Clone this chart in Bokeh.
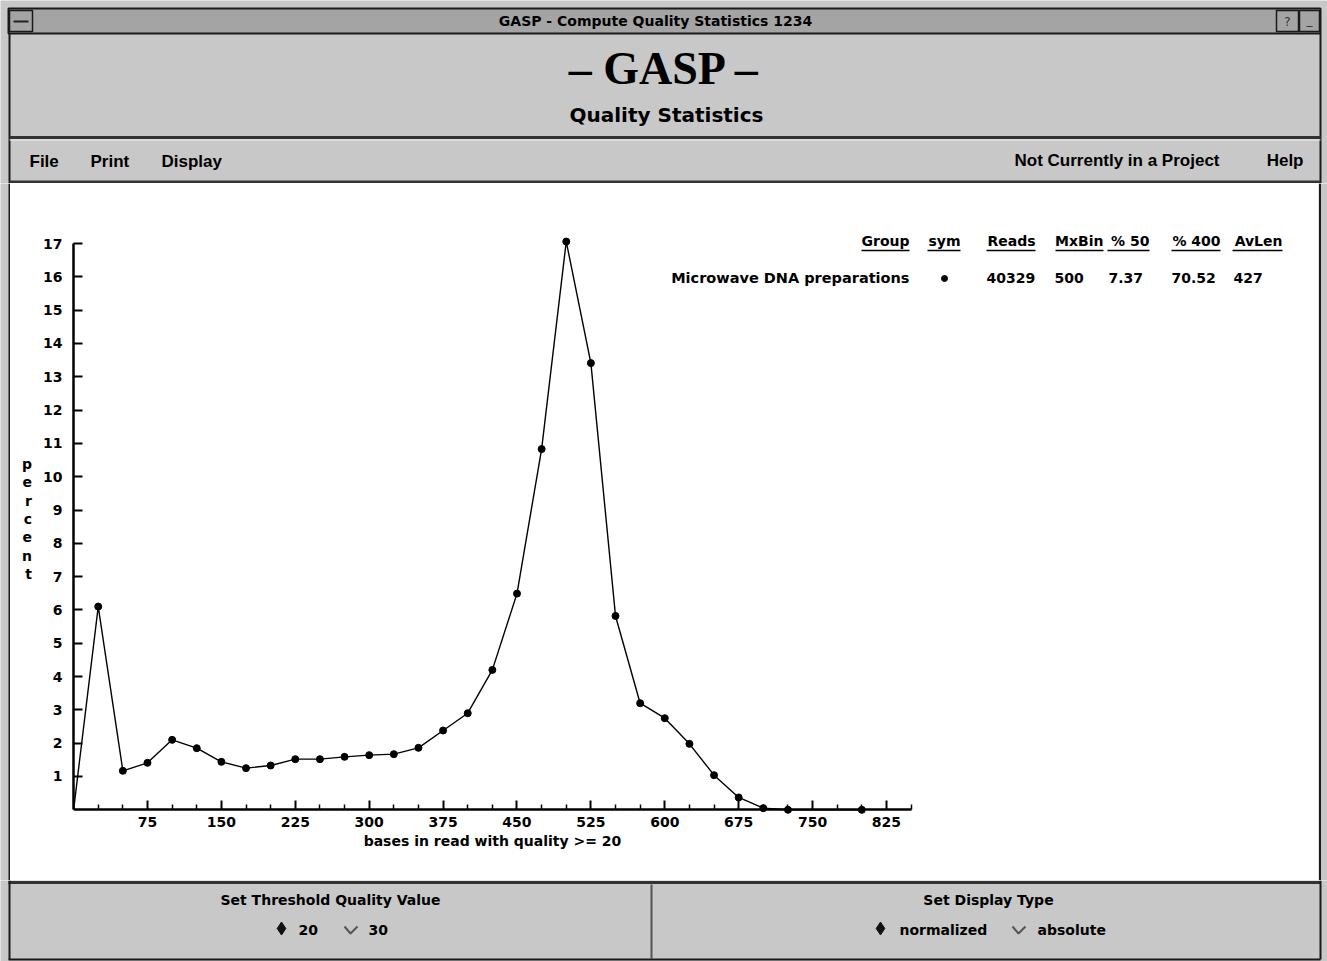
from bokeh.plotting import figure
from bokeh.models import Range1d, FixedTicker
from bokeh.layouts import column, row
from bokeh.embed import file_html
from bokeh.resources import INLINE
from bokeh.core.properties import value

# ---------------- data ----------------
bins = [0, 25, 50, 75, 100, 125, 150, 175, 200, 225, 250, 275, 300, 325, 350,
        375, 400, 425, 450, 475, 500, 525, 550, 575, 600, 625, 650, 675, 700, 725, 800]
percent = [0.0, 6.10, 1.17, 1.41, 2.10, 1.85, 1.44, 1.25, 1.33, 1.52, 1.52, 1.59, 1.64, 1.67, 1.86,
           2.38, 2.90, 4.20, 6.49, 10.83, 17.06, 13.41, 5.82, 3.20, 2.75, 1.98, 1.04, 0.37, 0.05, 0.0, 0.0]
x_major_ticks = [75, 150, 225, 300, 375, 450, 525, 600, 675, 750, 825]
x_minor_ticks = [25, 50, 100, 125, 175, 200, 250, 275, 325, 350, 400, 425, 475, 500, 550,
                 575, 625, 650, 700, 725, 775, 800, 850]
y_major_ticks = [1, 2, 3, 4, 5, 6, 7, 8, 9, 10, 11, 12, 13, 14, 15, 16, 17]
table_headers = ["Group", "sym", "Reads", "MxBin", "% 50", "% 400", "AvLen"]
table_row = ["Microwave DNA preparations", "\u2022", "40329", "500", "7.37", "70.52", "427"]

window_title = "GASP - Compute Quality Statistics 1234"
app_title = "\u2013 GASP \u2013"
app_subtitle = "Quality Statistics"
menu_left = ["File", "Print", "Display"]
menu_right = ["Not Currently in a Project", "Help"]
x_label = "bases in read with quality >= 20"
y_label = "percent"
threshold_title = "Set Threshold Quality Value"
display_title = "Set Display Type"
radio_labels = ["20", "30", "normalized", "absolute"]

# ---------------- layout helpers (page pixel -> data) ----------------
X0_PX, X_SCALE = 73.1, 0.9853
Y0_PX, Y_SCALE = 809.3, 33.31


def dx(px):
    return (px - X0_PX) / X_SCALE


def dy(py):
    return (Y0_PX - py) / Y_SCALE


PAGE_W = 1327
GRAY = "#c8c8c8"
DARK_GRAY = "#a4a4a4"
EDGE = "#1a1a1a"
SANS = value("DejaVu Sans")
UI = value("Liberation Sans")


def deco_fig(x0, x1, y0, y1):
    f = figure(width=x1 - x0, height=y1 - y0, x_range=Range1d(x0, x1),
               y_range=Range1d(y1, y0), output_backend="svg", toolbar_location=None,
               x_axis_location=None, y_axis_location=None, min_border=0, frame_align=False)
    f.grid.visible = False
    f.outline_line_color = None
    f.background_fill_color = GRAY
    f.border_fill_color = GRAY
    return f


# ---------------- header ----------------
h = deco_fig(0, PAGE_W, 0, 183)
h.quad(left=[8], right=[1320], top=[8], bottom=[33], fill_color=DARK_GRAY, line_color=EDGE, line_width=2)
h.quad(left=[9], right=[32], top=[10], bottom=[31], fill_color=DARK_GRAY, line_color=EDGE, line_width=1.5)
h.quad(left=[1276], right=[1298], top=[10], bottom=[31], fill_color=DARK_GRAY, line_color=EDGE, line_width=1.5)
h.quad(left=[1299], right=[1319], top=[10], bottom=[31], fill_color=DARK_GRAY, line_color=EDGE, line_width=1.5)
h.segment(x0=[13], y0=[21], x1=[28], y1=[21], line_color="#222222", line_width=2)
h.text(x=[1287], y=[21], text=["?"], text_font=SANS, text_font_size="12px", text_align="center",
       text_baseline="middle", text_color="#333333")
h.text(x=[1309], y=[19], text=["_"], text_font=SANS, text_font_size="12px", text_align="center",
       text_baseline="middle", text_color="#333333")
h.text(x=[655], y=[20], text=[window_title], text_font=SANS, text_font_style="bold", text_font_size="14px",
       text_align="center", text_baseline="middle", text_color="#000000")
# window edges
h.segment(x0=[9, 1320], y0=[33, 33], x1=[9, 1320], y1=[183, 183], line_color=EDGE, line_width=2)
# titles
h.text(x=[664], y=[68], text=[app_title], text_font=value("Liberation Serif"), text_font_style="bold",
       text_font_size="46px", text_align="center", text_baseline="middle", text_color="#000000")
h.text(x=[666], y=[114], text=[app_subtitle], text_font=SANS, text_font_style="bold",
       text_font_size="20px", text_align="center", text_baseline="middle", text_color="#000000")
# separators
h.segment(x0=[9], y0=[137], x1=[1320], y1=[137], line_color="#333333", line_width=3)
h.segment(x0=[9], y0=[139.5], x1=[1320], y1=[139.5], line_color="#eeeeee", line_width=1)
h.segment(x0=[9], y0=[181.5], x1=[1320], y1=[181.5], line_color="#333333", line_width=3)
# menu
h.text(x=[29, 90, 161], y=[161, 161, 161], text=menu_left, text_font=UI, text_font_style="bold",
       text_font_size="17px", text_align="left", text_baseline="middle", text_color="#000000")
h.text(x=[1219, 1303], y=[160, 160], text=menu_right, text_font=UI, text_font_style="bold",
       text_font_size="17px", text_align="right", text_baseline="middle", text_color="#000000")

# ---------------- side strips of the chart area ----------------
left_strip = deco_fig(0, 10, 183, 880)
left_strip.segment(x0=[9], y0=[183], x1=[9], y1=[880], line_color=EDGE, line_width=2)
right_strip = deco_fig(1318, PAGE_W, 183, 880)
right_strip.segment(x0=[1319.5], y0=[183], x1=[1319.5], y1=[880], line_color=EDGE, line_width=2)

# ---------------- main chart ----------------
FIG_LEFT, FIG_RIGHT = 10, 1318
FRAME_LEFT, FRAME_RIGHT, FRAME_TOP, FRAME_BOTTOM = 73, 1318, 183, 854
p = figure(width=FIG_RIGHT - FIG_LEFT, height=697,
           x_range=Range1d(dx(FRAME_LEFT), dx(FRAME_RIGHT)),
           y_range=Range1d(dy(FRAME_BOTTOM), dy(FRAME_TOP)),
           output_backend="svg", toolbar_location=None, frame_align=False,
           min_border_left=FRAME_LEFT - FIG_LEFT, min_border_right=FIG_RIGHT - FRAME_RIGHT,
           min_border_top=0, min_border_bottom=880 - FRAME_BOTTOM)
p.grid.visible = False
p.outline_line_color = None
p.background_fill_color = "white"
p.border_fill_color = "white"

p.xaxis.fixed_location = 0
p.xaxis.bounds = (0, 850)
p.xaxis.ticker = FixedTicker(ticks=x_major_ticks, minor_ticks=x_minor_ticks)
p.yaxis.bounds = (0, 17)
p.yaxis.ticker = FixedTicker(ticks=y_major_ticks, minor_ticks=[])
for ax in (p.xaxis[0], p.yaxis[0]):
    ax.axis_line_width = 2.5
    ax.axis_line_color = "black"
    ax.major_tick_in = 9
    ax.major_tick_out = 0
    ax.minor_tick_in = 5
    ax.minor_tick_out = 0
    ax.major_tick_line_width = 2
    ax.minor_tick_line_width = 1.5
    ax.major_tick_line_color = "black"
    ax.minor_tick_line_color = "black"
    ax.major_label_text_font = "DejaVu Sans"
    ax.major_label_text_font_style = "bold"
    ax.major_label_text_font_size = "14px"
    ax.major_label_text_color = "black"
p.xaxis.major_label_standoff = 7
p.yaxis.major_label_standoff = 11
p.yaxis.axis_label = "\n".join(list(y_label))
p.yaxis.axis_label_orientation = "horizontal"
p.yaxis.axis_label_text_font = "DejaVu Sans"
p.yaxis.axis_label_text_font_style = "bold"
p.yaxis.axis_label_text_font_size = "14px"
p.yaxis.axis_label_text_line_height = 1.15
p.yaxis.axis_label_standoff = 8
p.yaxis.axis_label_text_color = "black"

p.line(bins, percent, line_color="black", line_width=1.4)
p.scatter(bins[1:], percent[1:], size=7, fill_color="black", line_color="black")

p.text(x=[dx(492)], y=[dy(840)], text=[x_label], text_font=SANS, text_font_style="bold",
       text_font_size="14px", text_align="center", text_baseline="middle", text_color="black")

# statistics table
col_right = [909, 960, 1035, 1103, 1149, 1220, 1282]
col_left = [861, 927, 986, 1055, 1107, 1171, 1232]
row_left = [986, 1054, 1108, 1171, 1233]
p.text(x=[dx(v) for v in col_right], y=[dy(240)] * len(table_headers), text=table_headers, text_font=SANS,
       text_font_style="bold", text_font_size="14px", text_align="right", text_baseline="middle",
       text_color="black")
p.segment(x0=[dx(v) for v in col_left], y0=[dy(250)] * 7, x1=[dx(v) for v in col_right], y1=[dy(250)] * 7,
          line_color="black", line_width=1.5)
p.text(x=[dx(909)], y=[dy(277)], text=[table_row[0]], text_font=SANS, text_font_style="bold",
       text_font_size="14.5px", text_align="right", text_baseline="middle", text_color="black")
p.scatter([dx(944)], [dy(278)], size=6, fill_color="black", line_color="black")
p.text(x=[dx(v) for v in row_left], y=[dy(277)] * 5, text=table_row[2:], text_font=SANS,
       text_font_style="bold", text_font_size="14px", text_align="left", text_baseline="middle",
       text_color="black")

# ---------------- bottom controls ----------------
b = deco_fig(0, PAGE_W, 880, 961)
b.segment(x0=[8], y0=[882], x1=[1320], y1=[882], line_color="#333333", line_width=3)
b.segment(x0=[651], y0=[884], x1=[651], y1=[958], line_color="#555555", line_width=2)
b.segment(x0=[9, 1320], y0=[880, 880], x1=[9, 1320], y1=[959, 959], line_color=EDGE, line_width=2)
b.segment(x0=[8], y0=[959], x1=[1320], y1=[959], line_color=EDGE, line_width=2)
b.text(x=[330, 988], y=[899, 899], text=[threshold_title, display_title], text_font=SANS,
       text_font_style="bold", text_font_size="14px", text_align="center", text_baseline="middle",
       text_color="black")
b.text(x=[298, 368, 899, 1037], y=[929] * 4, text=radio_labels, text_font=SANS,
       text_font_style="bold", text_font_size="14px", text_align="left", text_baseline="middle",
       text_color="black")
b.scatter([281, 880], [928, 928], marker="diamond", size=13, fill_color="#111111", line_color="#111111")
b.multi_line(xs=[[344, 350, 357], [1012, 1018, 1025]], ys=[[926, 933, 926], [926, 933, 926]],
             line_color="#555555", line_width=2)

layout = column(h, row(left_strip, p, right_strip, spacing=0), b, spacing=0)
open("out.html", "w").write(file_html(layout, INLINE))
